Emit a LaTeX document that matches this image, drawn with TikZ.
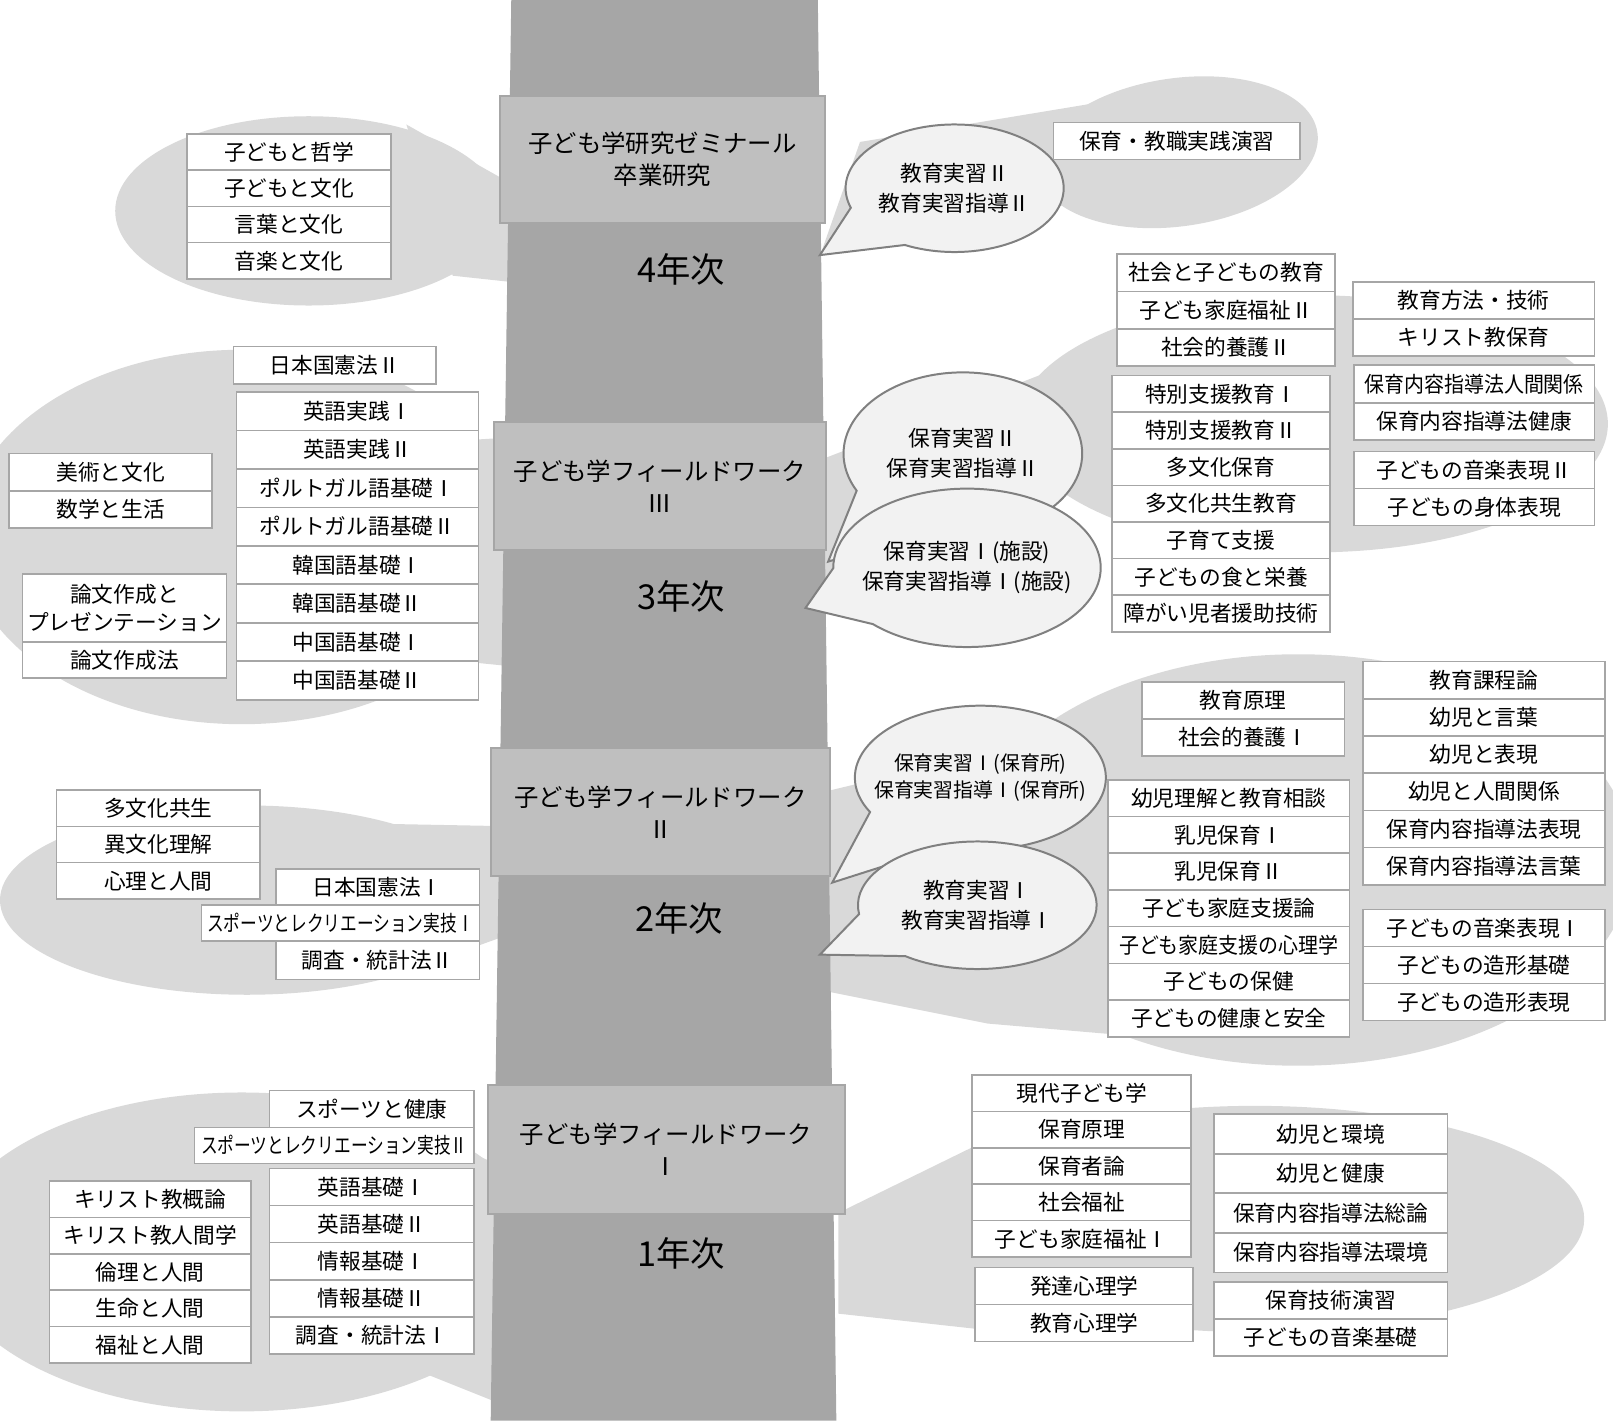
\documentclass[tikz,border=0pt]{standalone}
\usepackage{fontspec}
\usepackage{graphicx}
\setmainfont{Noto Sans CJK JP}
\usetikzlibrary{shapes.callouts}

\begin{document}
\begin{tikzpicture}[x=0.02cm, y=-0.02cm,
    subj/.style={draw=BoxLine, line width=0.9pt, fill=white, inner sep=0pt,
      font=\fontsize{12}{15}\selectfont},
    bw/.style={minimum width=#1*0.02cm},
    bh/.style={minimum height=#1*0.02cm},
    fwbox/.style={draw=PillarGray, line width=1.1pt, fill=BoxGray, align=center,
      inner sep=0pt, font=\fontsize{13.5}{17.6}\selectfont},
    yearlab/.style={font=\fontsize{19}{22}\selectfont},
    bubble/.style={ellipse callout, draw=BubbleLine, line width=1.1pt, fill=BubbleFill,
      align=center, inner xsep=-0.8cm, inner ysep=0pt, callout pointer arc=45,
      font=\fontsize{12}{16.5}\selectfont}]

\colorlet{Cloud}{black!15}
\colorlet{PillarGray}{black!35}
\colorlet{BoxGray}{black!25}
\colorlet{BoxLine}{black!35}
\colorlet{BubbleFill}{black!5}
\colorlet{BubbleLine}{black!50}

\useasboundingbox (0,0) rectangle (1568,1381);

% Clouds behind the pillar
\fill[Cloud] (300,205) ellipse [x radius=188, y radius=92];
\fill[Cloud] (395,121) -- (505,183) -- (505,275) -- (440,268) -- cycle;
\fill[Cloud, rotate around={8:(1145,148)}] (1145,148) ellipse [x radius=137, y radius=72];
\fill[Cloud] (1060,101) -- (836,138) -- (797,249) -- (1032,200) -- cycle;

\fill[Cloud] (235,522) ellipse [x radius=270, y radius=182];
\fill[Cloud] (420,430) -- (500,425) -- (500,648) -- (420,640) -- cycle;
\fill[Cloud] (1276,412) ellipse [x radius=287, y radius=125];
\fill[Cloud] (1010,365) -- (795,448) -- (795,575) -- (1010,459) -- cycle;

\fill[Cloud] (240,875) ellipse [x radius=240, y radius=92];
\fill[Cloud] (380,801) -- (485,803) -- (485,912) -- (380,950) -- cycle;
\fill[Cloud] (1262,836) ellipse [x radius=325, y radius=200];
\fill[Cloud] (1000,722) -- (800,770) -- (800,963) -- (960,995) -- (1077,1005) -- (1077,760) -- cycle;

\fill[Cloud] (235,1217) ellipse [x radius=290, y radius=155];
\fill[Cloud] (400,1095) -- (495,1137) -- (495,1368) -- (400,1330) -- cycle;
\fill[Cloud] (1220,1185) ellipse [x radius=320, y radius=110];
\fill[Cloud] (960,1108) -- (815,1179) -- (815,1277) -- (960,1293) -- (1050,1290) -- (1050,1150) -- cycle;

% Pillar
\fill[PillarGray] (497,0) -- (795,0) -- (813,1381) -- (477,1381) -- cycle;

\node[fwbox, bw=316, bh=124] (fw4) at (644,155) {子ども学研究ゼミナール\\卒業研究};
\node[fwbox, bw=323, bh=125] (fw3) at (641.5,472.5) {子ども学フィールドワーク\\Ⅲ};
\node[fwbox, bw=330, bh=125] (fw2) at (642,789.5) {子ども学フィールドワーク\\Ⅱ};
\node[fwbox, bw=347, bh=125] (fw1) at (647.5,1117.5) {子ども学フィールドワーク\\Ⅰ};

\node[yearlab] (y4) at (662,262) {4年次};
\node[yearlab] (y3) at (662,580) {3年次};
\node[yearlab] (y2) at (660,893) {2年次};
\node[yearlab] (y1) at (662,1218) {1年次};

% Callouts
\coordinate (t4) at (797,248);
\node[bubble, bw=212, bh=124, callout absolute pointer={(t4)}] (c4) at (928,183) {教育実習Ⅱ\\教育実習指導Ⅱ};
\coordinate (t3a) at (805,546);
\node[bubble, bw=232, bh=158, callout absolute pointer={(t3a)}] (c3a) at (936,441) {保育実習Ⅱ\\保育実習指導Ⅱ};
\coordinate (t3b) at (783,591);
\node[bubble, bw=260, bh=154, callout absolute pointer={(t3b)}] (c3b) at (940,552) {保育実習Ⅰ(施設)\\保育実習指導Ⅰ(施設)};
\coordinate (t2a) at (809,858);
\node[bubble, bw=244, bh=140, callout absolute pointer={(t2a)}, font=\fontsize{11}{15}\selectfont] (c2a) at (953,756) {保育実習Ⅰ(保育所)\\保育実習指導Ⅰ(保育所)};
\coordinate (t2b) at (797,928);
\node[bubble, bw=232, bh=124, callout absolute pointer={(t2b)}] (c2b) at (950,880) {教育実習Ⅰ\\教育実習指導Ⅰ};

% 4年次
\foreach \t [count=\i] in {子どもと哲学,子どもと文化,言葉と文化,音楽と文化}
  \node[subj, bw=198, bh=35.3] (l4-\i) at (281,{130+35.3*(\i-0.5)}) {\t};
\node[subj, bw=240, bh=36] (r4) at (1144,137) {保育・教職実践演習};

% 3年次
\node[subj, bw=197, bh=36] (l3a) at (325.5,355) {日本国憲法Ⅱ};
\foreach \t [count=\i] in {英語実践Ⅰ,英語実践Ⅱ,ポルトガル語基礎Ⅰ,ポルトガル語基礎Ⅱ,韓国語基礎Ⅰ,韓国語基礎Ⅱ,中国語基礎Ⅰ,中国語基礎Ⅱ}
  \node[subj, bw=235, bh=37.4] (l3b-\i) at (347.5,{381+37.4*(\i-0.5)}) {\t};
\foreach \t [count=\i] in {美術と文化,数学と生活}
  \node[subj, bw=197, bh=36] (l3c-\i) at (107.5,{441+36*(\i-0.5)}) {\t};
\node[subj, bw=198, bh=66, align=center, font=\fontsize{12}{15.4}\selectfont] (l3d) at (121,591) {論文作成と\\プレゼンテーション};
\node[subj, bw=198, bh=35] (l3e) at (121,641.5) {論文作成法};

\foreach \t [count=\i] in {社会と子どもの教育,子ども家庭福祉Ⅱ,社会的養護Ⅱ}
  \node[subj, bw=212, bh=36.3] (r3a-\i) at (1192,{247+36.3*(\i-0.5)}) {\t};
\foreach \t [count=\i] in {特別支援教育Ⅰ,特別支援教育Ⅱ,多文化保育,多文化共生教育,子育て支援,子どもの食と栄養,障がい児者援助技術}
  \node[subj, bw=212, bh=35.6] (r3b-\i) at (1187,{365+35.6*(\i-0.5)}) {\t};
\foreach \t [count=\i] in {教育方法・技術,キリスト教保育}
  \node[subj, bw=235, bh=36] (r3c-\i) at (1432.5,{274+36*(\i-0.5)}) {\t};
\foreach \t [count=\i] in {{\scalebox{0.92}[1]{保育内容指導法人間関係}},保育内容指導法健康}
  \node[subj, bw=234, bh=36.5] (r3d-\i) at (1433,{355+36.5*(\i-0.5)}) {\t};
\foreach \t [count=\i] in {子どもの音楽表現Ⅱ,子どもの身体表現}
  \node[subj, bw=234, bh=36] (r3e-\i) at (1433,{439+36*(\i-0.5)}) {\t};

% 2年次
\foreach \t [count=\i] in {多文化共生,異文化理解,心理と人間}
  \node[subj, bw=198, bh=35.3] (l2a-\i) at (154,{768+35.3*(\i-0.5)}) {\t};
\node[subj, bw=198, bh=35] (l2b) at (367,862.5) {日本国憲法Ⅰ};
\node[subj, bw=270, bh=35] (l2c) at (331,897.5) {\scalebox{0.77}[1]{スポーツとレクリエーション実技Ⅰ}};
\node[subj, bw=198, bh=37] (l2d) at (367,933.5) {調査・統計法Ⅱ};

\foreach \t [count=\i] in {教育原理,社会的養護Ⅰ}
  \node[subj, bw=197, bh=36] (r2a-\i) at (1208.5,{663+36*(\i-0.5)}) {\t};
\foreach \t [count=\i] in {幼児理解と教育相談,乳児保育Ⅰ,乳児保育Ⅱ,子ども家庭支援論,{\scalebox{0.92}[1]{子ども家庭支援の心理学}},子どもの保健,子どもの健康と安全}
  \node[subj, bw=235, bh=35.7] (r2b-\i) at (1194.5,{758+35.7*(\i-0.5)}) {\t};
\foreach \t [count=\i] in {教育課程論,幼児と言葉,幼児と表現,幼児と人間関係,保育内容指導法表現,保育内容指導法言葉}
  \node[subj, bw=235, bh=36.2] (r2c-\i) at (1442.5,{643+36.2*(\i-0.5)}) {\t};
\foreach \t [count=\i] in {子どもの音楽表現Ⅰ,子どもの造形基礎,子どもの造形表現}
  \node[subj, bw=235, bh=36] (r2d-\i) at (1442.5,{884+36*(\i-0.5)}) {\t};

% 1年次
\node[subj, bw=199, bh=36] (l1a) at (361.5,1078) {スポーツと健康};
\node[subj, bw=272, bh=35] (l1b) at (325,1113.5) {\scalebox{0.77}[1]{スポーツとレクリエーション実技Ⅱ}};
\foreach \t [count=\i] in {英語基礎Ⅰ,英語基礎Ⅱ,情報基礎Ⅰ,情報基礎Ⅱ,調査・統計法Ⅰ}
  \node[subj, bw=199, bh=36] (l1c-\i) at (361.5,{1136+36*(\i-0.5)}) {\t};
\foreach \t [count=\i] in {キリスト教概論,キリスト教人間学,倫理と人間,生命と人間,福祉と人間}
  \node[subj, bw=196, bh=35.4] (l1d-\i) at (146,{1148+35.4*(\i-0.5)}) {\t};

\foreach \t [count=\i] in {現代子ども学,保育原理,保育者論,社会福祉,子ども家庭福祉Ⅰ}
  \node[subj, bw=213, bh=35.4] (r1a-\i) at (1051.5,{1045+35.4*(\i-0.5)}) {\t};
\foreach \t [count=\i] in {発達心理学,教育心理学}
  \node[subj, bw=212, bh=36] (r1b-\i) at (1054,{1232+36*(\i-0.5)}) {\t};
\foreach \t [count=\i] in {幼児と環境,幼児と健康,保育内容指導法総論,保育内容指導法環境}
  \node[subj, bw=227, bh=38.5] (r1c-\i) at (1293.5,{1083+38.5*(\i-0.5)}) {\t};
\foreach \t [count=\i] in {保育技術演習,子どもの音楽基礎}
  \node[subj, bw=227, bh=36] (r1d-\i) at (1293.5,{1246+36*(\i-0.5)}) {\t};
\end{tikzpicture}
\end{document}
